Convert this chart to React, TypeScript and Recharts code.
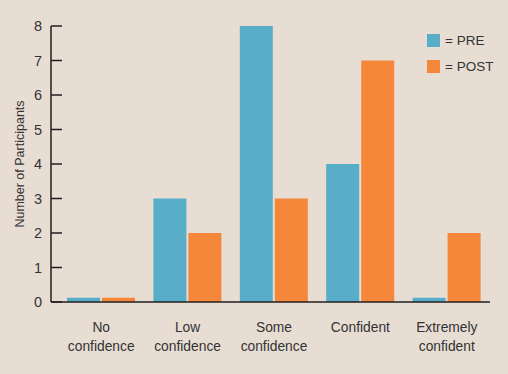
import { BarChart, Bar, XAxis, YAxis } from 'recharts';

const categories = ['No|confidence', 'Low|confidence', 'Some|confidence', 'Confident', 'Extremely|confident'];
// zero counts are drawn as a small stub in the original
const preValues = [0.12, 3, 8, 4, 0.12];
const postValues = [0.12, 2, 3, 7, 2];
const yTicks = [0, 1, 2, 3, 4, 5, 6, 7, 8];
const legendItems = ['= PRE', '= POST'];

const BLUE = '#58aec8';
const ORANGE = '#f5873a';
const INK = '#231f20';
const TEXT = '#333333';
const FONT = '"Liberation Sans", Arial, sans-serif';

const data = categories.map((name, i) => ({
  name,
  pre: preValues[i],
  post: postValues[i],
}));

const XTick = ({ x, y, payload }: any) => {
  const lines = String(payload.value).split('|');
  return (
    <g>
      {lines.map((line, i) => (
        <text
          key={i}
          x={x}
          y={y + 30 + i * 19}
          textAnchor="middle"
          fontSize={13.8}
          fontFamily={FONT}
          fill={TEXT}
        >
          {line}
        </text>
      ))}
    </g>
  );
};

const YTick = ({ x, y, payload }: any) => (
  <g>
    <line x1={x} x2={x + 11} y1={y} y2={y} stroke={INK} strokeWidth={1.5} />
    <text x={x - 9} y={y + 5} textAnchor="end" fontSize={14.5} fontFamily={FONT} fill={TEXT}>
      {payload.value}
    </text>
  </g>
);

export default function App() {
  return (
    <div style={{ position: 'absolute', left: 0, top: 0, width: 508, height: 374, background: '#e7ddd3' }}>
      <BarChart
        width={508}
        height={374}
        data={data}
        margin={{ top: 26, right: 18, bottom: 0, left: 0 }}
        barGap={2}
        barSize={33}
      >
        <YAxis
          width={51}
          domain={[0, 8]}
          ticks={yTicks}
          interval={0}
          tickLine={false}
          tickSize={0}
          tickMargin={0}
          axisLine={{ stroke: INK, strokeWidth: 1.5 }}
          tick={<YTick />}
          label={{
            content: () => (
              <text
                x={24}
                y={164}
                transform="rotate(-90, 24, 164)"
                textAnchor="middle"
                fontSize={12.5}
                fontFamily={FONT}
                fill={TEXT}
              >
                Number of Participants
              </text>
            ),
          }}
        />
        <XAxis
          dataKey="name"
          height={72}
          interval={0}
          tickLine={false}
          tickSize={0}
          tickMargin={0}
          padding={{ left: 7, right: 0 }}
          axisLine={{ stroke: INK, strokeWidth: 1.5 }}
          tick={<XTick />}
        />
        <Bar dataKey="pre" fill={BLUE} isAnimationActive={false} />
        <Bar dataKey="post" fill={ORANGE} isAnimationActive={false} />
      </BarChart>
      <div style={{ position: 'absolute', left: 427, top: 27, fontFamily: FONT, fontSize: 13.5, color: TEXT }}>
        {legendItems.map((label, i) => (
          <div key={label} style={{ display: 'flex', alignItems: 'center', height: 26 }}>
            <div style={{ width: 13, height: 13, background: i === 0 ? BLUE : ORANGE, marginRight: 5 }} />
            <span>{label}</span>
          </div>
        ))}
      </div>
    </div>
  );
}
